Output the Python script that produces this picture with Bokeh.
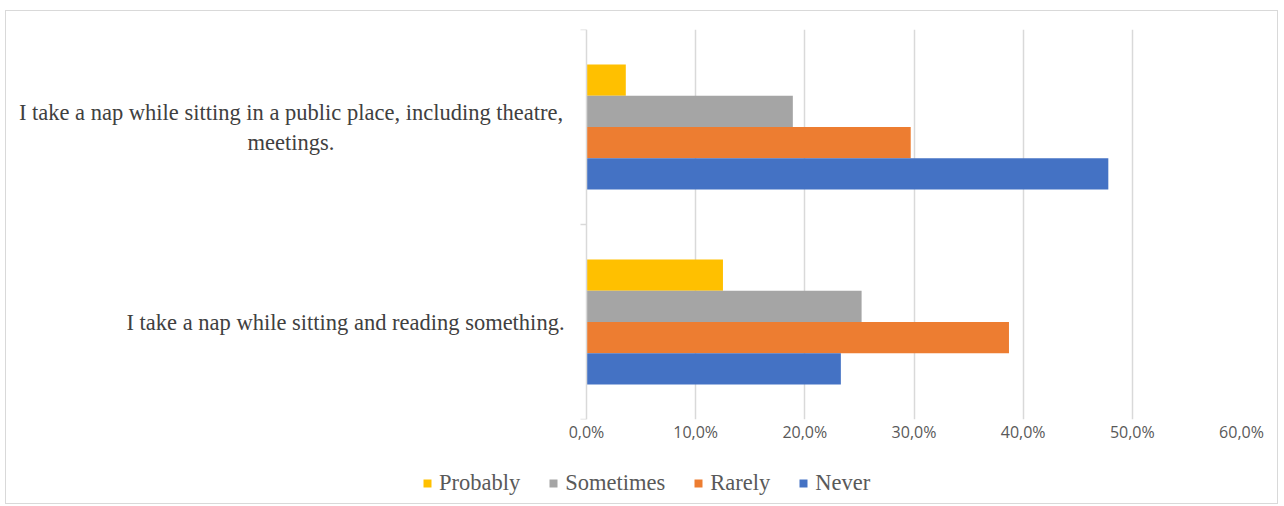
from bokeh.plotting import figure
from bokeh.layouts import column
from bokeh.models import FactorRange, Range1d, FixedTicker, Legend, LegendItem, Span, ColumnDataSource
from bokeh.core.properties import value
from bokeh.transform import dodge
from bokeh.embed import file_html
from bokeh.resources import INLINE

# ---- data ----
categories = [
    "I take a nap while sitting and reading something.",
    "I take a nap while sitting in a public place, including theatre, meetings.",
]
category_labels = [
    "I take a nap while sitting and reading something.",
    "I take a nap while sitting in a public place, including theatre,\nmeetings.",
]
series = ["Probably", "Sometimes", "Rarely", "Never"]
probably = [12.5, 3.6]
sometimes = [25.2, 18.9]
rarely = [38.7, 29.7]
never = [23.3, 47.8]
tick_values = [0, 10, 20, 30, 40, 50, 60]
tick_labels = ["0,0%", "10,0%", "20,0%", "30,0%", "40,0%", "50,0%", "60,0%"]
colors = ["#FFC000", "#A5A5A5", "#ED7D31", "#4472C4"]

source = ColumnDataSource(dict(cat=categories, Probably=probably, Sometimes=sometimes,
                               Rarely=rarely, Never=never))

# layout: plot frame extends left to hold the category labels
FRAME_W = 1235
PX_PER_UNIT = 655 / 60.0          # 0..60 % spans 655 px
X_START = -580 / PX_PER_UNIT      # label area left of the value axis
LABEL_RIGHT = -22 / PX_PER_UNIT   # right edge of the label area
LABEL_CENTER = -295.5 / PX_PER_UNIT  # centre of the label area (for wrapped labels)

p = figure(
    frame_width=FRAME_W, frame_height=390,
    y_range=FactorRange(factors=categories, range_padding=0),
    x_range=Range1d(X_START, 60),
    output_backend="svg", toolbar_location=None,
    min_border_left=0, min_border_right=36, min_border_top=18, min_border_bottom=44,
)
p.outline_line_color = None
p.yaxis.visible = False

bar_h = 0.16
offsets = [1.5 * bar_h, 0.5 * bar_h, -0.5 * bar_h, -1.5 * bar_h]
for s, c, off in zip(series, colors, offsets):
    p.hbar(y=dodge("cat", off, range=p.y_range), right=s, left=0, height=bar_h,
           source=source, fill_color=c, line_color=None)

# category labels: single-line ones right aligned next to the axis,
# wrapped ones centred in the label area (as Excel does)
single = dict(cat=[c for c, l in zip(categories, category_labels) if "\n" not in l],
              label=[l for l in category_labels if "\n" not in l])
wrapped = dict(cat=[c for c, l in zip(categories, category_labels) if "\n" in l],
               label=[l for l in category_labels if "\n" in l])
label_style = dict(text_baseline="middle", text_font=value("Liberation Serif"),
                   text_font_size="22.5px", text_color="#404040", text_line_height=1.2)
p.text(x=LABEL_RIGHT, y="cat", text="label", source=ColumnDataSource(single),
       text_align="right", **label_style)
p.text(x=LABEL_CENTER, y="cat", text="label", source=ColumnDataSource(wrapped),
       text_align="center", **label_style)

# value axis line and category boundary ticks
p.add_layout(Span(location=0, dimension="height", line_color="#d9d9d9", line_width=1.5))
bounds = list(range(len(categories) + 1))
p.segment(x0=[-6 / PX_PER_UNIT] * len(bounds), x1=[0] * len(bounds), y0=bounds, y1=bounds,
          line_color="#d9d9d9", line_width=1.5)

# x axis
p.xaxis.ticker = FixedTicker(ticks=tick_values)
p.xaxis.major_label_overrides = {v: l for v, l in zip(tick_values, tick_labels)}
p.xaxis.axis_line_color = None
p.xaxis.major_tick_line_color = None
p.xaxis.minor_tick_line_color = None
p.xaxis.major_tick_out = 0
p.xaxis.major_tick_in = 0
p.xaxis.minor_tick_out = 0
p.xaxis.major_label_text_font = "Open Sans"
p.xaxis.major_label_text_font_size = "16px"
p.xaxis.major_label_text_color = "#595959"
p.xaxis.major_label_standoff = 1

p.xgrid.grid_line_color = "#d9d9d9"
p.xgrid.grid_line_width = 1.5
p.xgrid.ticker = FixedTicker(ticks=[t for t in tick_values if t > 0])
p.ygrid.grid_line_color = None

# legend strip (own small figure below the chart, same borders as the chart)
lf = figure(width=1271, height=40, output_backend="svg", toolbar_location=None,
            x_axis_type=None, y_axis_type=None,
            x_range=Range1d(0, 1), y_range=Range1d(0, 1),
            min_border_left=0, min_border_right=36, min_border_top=0, min_border_bottom=0)
lf.outline_line_color = None
lf.xgrid.visible = False
lf.ygrid.visible = False
# zero-size swatch renderers: only their colours are used by the legend
swatches = [lf.rect(x=[0], y=[0], width=0, height=0, fill_color=c, line_color=None)
            for c in colors]
legend = Legend(
    items=[LegendItem(label=s, renderers=[r]) for s, r in zip(series, swatches)],
    orientation="horizontal", location="center_left",
    glyph_width=10, glyph_height=10, label_standoff=7, spacing=28,
    padding=0, margin=416, border_line_color=None, background_fill_alpha=0,
    label_text_font="Liberation Serif", label_text_font_size="22.5px", label_text_color="#595959",
)
lf.add_layout(legend)

layout = column(p, lf, spacing=0)
layout.margin = (10, 0, 0, 5)
layout.styles = {"border": "1px solid #d9d9d9"}

open("out.html", "w").write(file_html(layout, INLINE))
